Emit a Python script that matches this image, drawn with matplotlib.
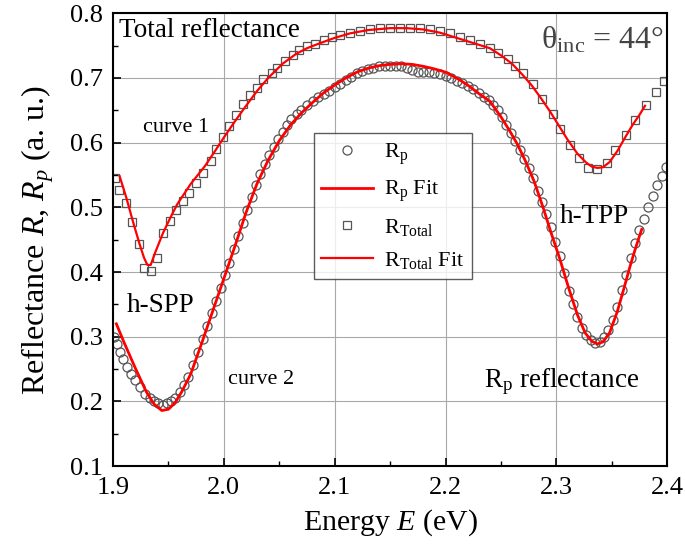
import numpy as np
import matplotlib
matplotlib.use("Agg")
import matplotlib.pyplot as plt
from matplotlib.ticker import MultipleLocator

plt.rcParams['font.family'] = ['Liberation Serif', 'DejaVu Serif']
plt.rcParams['mathtext.fontset'] = 'custom'
plt.rcParams['mathtext.rm'] = 'Liberation Serif'
plt.rcParams['mathtext.it'] = 'Liberation Serif:italic'

# Rp measured (circles)
rp_e = [1.901, 1.904, 1.906, 1.909, 1.913, 1.916, 1.920, 1.924, 1.929, 1.933,
        1.937, 1.941, 1.945, 1.949, 1.952, 1.956, 1.960, 1.964, 1.968, 1.972,
        1.977, 1.981, 1.985, 1.989, 1.993, 1.997, 2.001, 2.005, 2.009, 2.013,
        2.017, 2.021, 2.025, 2.029, 2.033, 2.037, 2.041, 2.045, 2.049, 2.053,
        2.057, 2.061, 2.066, 2.070, 2.075, 2.080, 2.085, 2.090, 2.095, 2.100,
        2.105, 2.110, 2.115, 2.120, 2.125, 2.130, 2.135, 2.140, 2.145, 2.150,
        2.155, 2.160, 2.165, 2.170, 2.175, 2.180, 2.185, 2.190, 2.195, 2.200,
        2.205, 2.210, 2.215, 2.220, 2.225, 2.230, 2.235, 2.239, 2.243, 2.247,
        2.251, 2.255, 2.259, 2.263, 2.267, 2.271, 2.275, 2.279, 2.283, 2.287,
        2.291, 2.295, 2.299, 2.303, 2.307, 2.311, 2.315, 2.319, 2.323, 2.327,
        2.331, 2.335, 2.339, 2.343, 2.347, 2.351, 2.355, 2.359, 2.363, 2.367,
        2.371, 2.375, 2.379, 2.383, 2.387, 2.391, 2.395, 2.399]
rp_val = [0.300, 0.289, 0.277, 0.265, 0.253, 0.243, 0.233, 0.222, 0.212, 0.206,
          0.201, 0.197, 0.195, 0.197, 0.200, 0.206, 0.214, 0.225, 0.238, 0.256,
          0.276, 0.297, 0.316, 0.336, 0.356, 0.375, 0.395, 0.414, 0.435, 0.455,
          0.476, 0.496, 0.516, 0.535, 0.552, 0.567, 0.581, 0.594, 0.606, 0.617,
          0.627, 0.636, 0.644, 0.651, 0.658, 0.664, 0.670, 0.675, 0.680, 0.686,
          0.691, 0.697, 0.702, 0.707, 0.711, 0.714, 0.716, 0.718, 0.719, 0.719,
          0.719, 0.718, 0.716, 0.712, 0.710, 0.710, 0.709, 0.708, 0.706, 0.703,
          0.700, 0.696, 0.692, 0.688, 0.683, 0.677, 0.671, 0.666, 0.659, 0.650,
          0.640, 0.628, 0.615, 0.602, 0.588, 0.575, 0.561, 0.545, 0.526, 0.508,
          0.490, 0.470, 0.447, 0.425, 0.398, 0.370, 0.350, 0.330, 0.314, 0.303,
          0.295, 0.291, 0.292, 0.299, 0.311, 0.326, 0.346, 0.372, 0.395, 0.422,
          0.445, 0.465, 0.482, 0.500, 0.518, 0.535, 0.549, 0.562]

# Rp fit
rpfit_e = [1.903, 1.910, 1.920, 1.930, 1.937, 1.944, 1.950, 1.956, 1.962, 1.970,
           1.980, 1.990, 2.000, 2.010, 2.020, 2.030, 2.040, 2.050, 2.060, 2.070,
           2.080, 2.090, 2.100, 2.110, 2.120, 2.130, 2.140, 2.150, 2.160, 2.170,
           2.180, 2.190, 2.200, 2.210, 2.220, 2.230, 2.240, 2.250, 2.258, 2.265,
           2.272, 2.280, 2.288, 2.295, 2.303, 2.311, 2.319, 2.326, 2.332, 2.337,
           2.342, 2.348, 2.355, 2.361, 2.367, 2.372, 2.377]
rpfit_val = [0.320, 0.291, 0.252, 0.215, 0.196, 0.186, 0.188, 0.198, 0.215, 0.242,
             0.290, 0.340, 0.390, 0.440, 0.492, 0.537, 0.573, 0.603, 0.627, 0.646,
             0.662, 0.677, 0.689, 0.700, 0.709, 0.715, 0.719, 0.721, 0.722, 0.721,
             0.718, 0.714, 0.709, 0.700, 0.689, 0.676, 0.664, 0.640, 0.618, 0.597,
             0.572, 0.540, 0.500, 0.462, 0.421, 0.376, 0.334, 0.306, 0.293, 0.289,
             0.292, 0.306, 0.339, 0.375, 0.412, 0.440, 0.466]

# Total reflectance measured (squares)
tot_e = [1.902, 1.905, 1.912, 1.917, 1.923, 1.928, 1.934, 1.940, 1.945, 1.951,
         1.957, 1.963, 1.969, 1.975, 1.981, 1.988, 1.993, 1.999, 2.005, 2.011,
         2.017, 2.024, 2.030, 2.035, 2.043, 2.048, 2.055, 2.062, 2.068, 2.075,
         2.082, 2.090, 2.098, 2.105, 2.114, 2.123, 2.132, 2.141, 2.150, 2.159,
         2.168, 2.177, 2.186, 2.195, 2.204, 2.213, 2.222, 2.231, 2.240, 2.247,
         2.256, 2.263, 2.270, 2.279, 2.287, 2.297, 2.303, 2.312, 2.320, 2.329,
         2.337, 2.346, 2.353, 2.363, 2.371, 2.381, 2.390, 2.397]
tot_val = [0.545, 0.527, 0.507, 0.477, 0.443, 0.407, 0.402, 0.421, 0.461, 0.479,
           0.496, 0.510, 0.522, 0.538, 0.553, 0.572, 0.590, 0.608, 0.626, 0.642,
           0.660, 0.673, 0.685, 0.698, 0.707, 0.716, 0.727, 0.735, 0.743, 0.749,
           0.753, 0.758, 0.763, 0.766, 0.769, 0.772, 0.775, 0.777, 0.778, 0.778,
           0.778, 0.777, 0.775, 0.772, 0.769, 0.764, 0.758, 0.752, 0.746, 0.739,
           0.730, 0.719, 0.707, 0.691, 0.668, 0.645, 0.621, 0.597, 0.576, 0.561,
           0.559, 0.569, 0.589, 0.612, 0.635, 0.659, 0.679, 0.696]

# Total reflectance fit
totfit_e = [1.906, 1.912, 1.918, 1.924, 1.928, 1.931, 1.934, 1.938, 1.945, 1.952,
            1.958, 1.970, 1.983, 1.992, 2.000, 2.010, 2.020, 2.030, 2.040, 2.053,
            2.065, 2.075, 2.084, 2.100, 2.114, 2.130, 2.150, 2.165, 2.180, 2.195,
            2.210, 2.225, 2.240, 2.250, 2.260, 2.270, 2.278, 2.286, 2.294, 2.302,
            2.310, 2.319, 2.327, 2.332, 2.337, 2.342, 2.348, 2.355, 2.362, 2.369,
            2.375, 2.380]
totfit_val = [0.548, 0.515, 0.478, 0.443, 0.422, 0.411, 0.411, 0.430, 0.460, 0.485,
              0.505, 0.536, 0.564, 0.587, 0.608, 0.633, 0.657, 0.680, 0.700, 0.722,
              0.737, 0.746, 0.752, 0.762, 0.769, 0.774, 0.777, 0.777, 0.775, 0.770,
              0.762, 0.754, 0.746, 0.735, 0.722, 0.704, 0.688, 0.669, 0.649, 0.627,
              0.605, 0.583, 0.569, 0.563, 0.561, 0.562, 0.570, 0.587, 0.608, 0.628,
              0.643, 0.657]

fig = plt.figure(figsize=(6.85, 5.53), dpi=100)
ax = fig.add_axes([0.165, 0.157, 0.809, 0.819])

ax.grid(True, color='#a8a8a8', linewidth=0.8)
ax.set_axisbelow(True)

ax.plot(rp_e, rp_val, linestyle='none', marker='o', markersize=6.5,
        markerfacecolor='none', markeredgecolor='#555555', markeredgewidth=0.9,
        label=r'R$_{\rm p}$')
ax.plot(rpfit_e, rpfit_val, color='#ff0000', linewidth=2.0, label=r'R$_{\rm p}$ Fit')
ax.plot(tot_e, tot_val, linestyle='none', marker='s', markersize=6,
        markerfacecolor='none', markeredgecolor='#555555', markeredgewidth=0.9,
        label=r'R$_{\rm Total}$')
ax.plot(totfit_e, totfit_val, color='#ff0000', linewidth=1.6,
        label=r'R$_{\rm Total}$ Fit')

ax.set_xlim(1.9, 2.4)
ax.set_ylim(0.1, 0.8)
ax.xaxis.set_major_locator(MultipleLocator(0.1))
ax.xaxis.set_minor_locator(MultipleLocator(0.05))
ax.yaxis.set_major_locator(MultipleLocator(0.1))
ax.yaxis.set_minor_locator(MultipleLocator(0.05))
ax.tick_params(which='both', direction='in', top=False, right=False, labelsize=19)
ax.tick_params(which='major', length=6, width=1.2)
ax.tick_params(axis='x', which='major', pad=8)
ax.tick_params(axis='y', which='major', pad=7)
ax.tick_params(which='minor', length=3.5, width=1.0)
ax.xaxis.set_major_formatter(plt.FuncFormatter(lambda v, p: f'{v:.1f}'))
ax.yaxis.set_major_formatter(plt.FuncFormatter(lambda v, p: f'{v:.1f}'))
for s in ax.spines.values():
    s.set_linewidth(1.5)

ax.set_xlabel(r'Energy $E$ (eV)', fontsize=21.5, labelpad=6)
ax.set_ylabel(r'Reflectance $R$, $R_p$ (a. u.)', fontsize=23, labelpad=10)

ax.text(1.905, 0.764, 'Total reflectance', fontsize=19.5)
ax.text(2.397, 0.745, r'θ$_{\rm inc}$ = 44°', fontsize=23, ha='right',
        color='#444444')
ax.text(1.927, 0.617, 'curve 1', fontsize=16)
ax.text(1.912, 0.338, 'h-SPP', fontsize=19.5)
ax.text(2.004, 0.227, 'curve 2', fontsize=16)
ax.text(2.303, 0.476, 'h-TPP', fontsize=19.5)
ax.text(2.235, 0.222, r'R$_{\rm p}$ reflectance', fontsize=19.5)

leg = ax.legend(loc='upper left', bbox_to_anchor=(0.362, 0.735), fontsize=16,
                frameon=True, fancybox=False, edgecolor='#333333',
                handlelength=2.3, handletextpad=0.5, labelspacing=0.55,
                borderpad=0.35, borderaxespad=0)
leg.get_frame().set_linewidth(1.0)

fig.savefig('out.png', dpi=100)
